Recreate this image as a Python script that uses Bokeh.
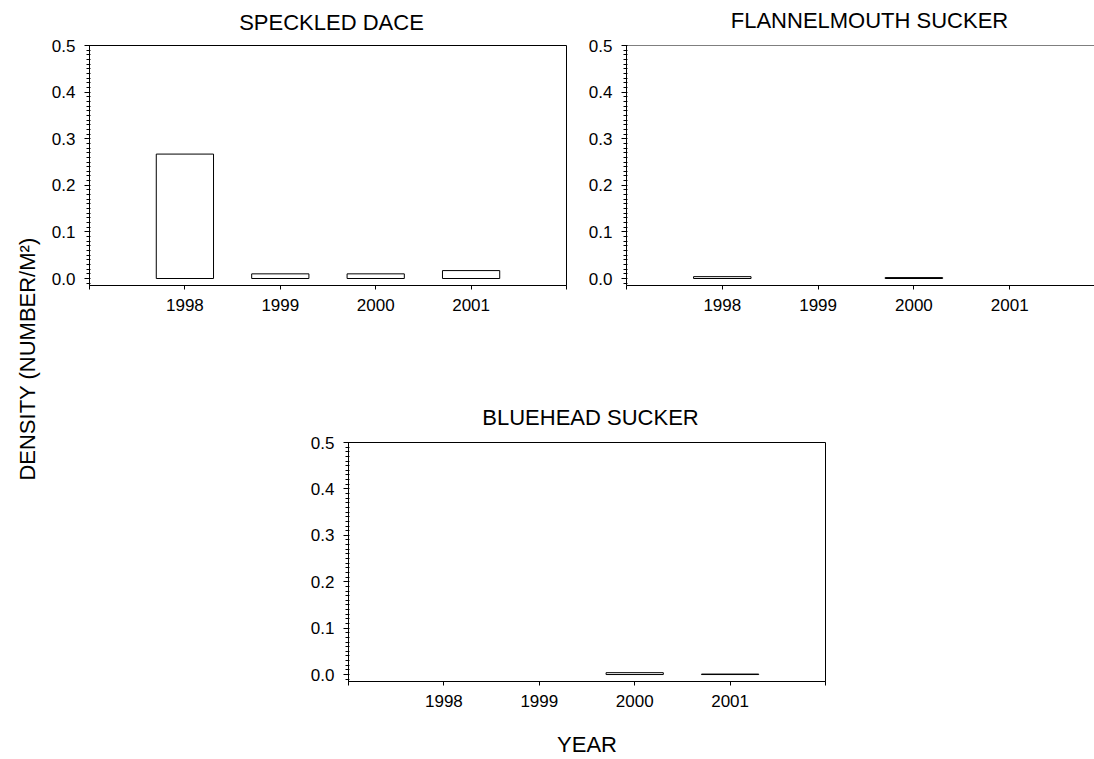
import math
from bokeh.plotting import figure
from bokeh.layouts import row, column
from bokeh.models import FixedTicker, Range1d, ColumnDataSource, PrintfTickFormatter, Spacer, Span
from bokeh.embed import file_html
from bokeh.resources import INLINE
from bokeh.core.properties import value

# ---------------- data ----------------
years = [1998, 1999, 2000, 2001]
speckled_dace = [0.267, 0.010, 0.010, 0.017]
flannelmouth_sucker = [0.004, 0.0, 0.002, 0.0]
bluehead_sucker = [0.0, 0.0, 0.004, 0.001]
titles = ["SPECKLED DACE", "FLANNELMOUTH SUCKER", "BLUEHEAD SUCKER"]
y_ticks = [0.0, 0.1, 0.2, 0.3, 0.4, 0.5]
y_minor_ticks = [i / 100 for i in range(-1, 51)]
x_ticks = [1997, 1998, 1999, 2000, 2001, 2002]
y_label = "DENSITY (NUMBER/M²)"
x_label = "YEAR"

FONT = "Liberation Sans"
TICK_FS = "17px"
TITLE_FS = "22px"


def make_panel(vals, width, height, bl, br, bt, bb, x_end, outline=True, xlabel=None):
    p = figure(width=width, height=height,
               x_range=Range1d(1997, x_end), y_range=Range1d(-0.015, 0.5),
               output_backend="svg", toolbar_location=None,
               min_border_left=bl, min_border_right=br,
               min_border_top=bt, min_border_bottom=bb)
    p.background_fill_color = "white"
    p.border_fill_color = "white"
    p.grid.visible = False
    p.title.visible = False
    if outline:
        p.outline_line_color = "black"
        p.outline_line_width = 1
        p.outline_line_alpha = 1
    else:
        p.outline_line_color = None
        p.add_layout(Span(location=0.5, dimension="width", line_color="black", line_width=1))

    xa = p.xaxis[0]
    xa.ticker = FixedTicker(ticks=x_ticks)
    xa.major_label_overrides = {1997: "", 2002: ""}
    xa.major_tick_out = 4
    xa.major_tick_in = 0
    xa.minor_tick_out = 0
    xa.minor_tick_in = 0
    xa.axis_line_color = "black"
    xa.major_tick_line_color = "black"
    xa.major_label_text_font = FONT
    xa.major_label_text_font_size = TICK_FS
    xa.major_label_text_color = "black"
    xa.major_label_standoff = 9
    if xlabel:
        xa.axis_label = xlabel
        xa.axis_label_text_font = FONT
        xa.axis_label_text_font_size = TITLE_FS
        xa.axis_label_text_font_style = "normal"
        xa.axis_label_text_color = "black"
        xa.axis_label_standoff = 22

    ya = p.yaxis[0]
    ya.ticker = FixedTicker(ticks=y_ticks, minor_ticks=y_minor_ticks)
    ya.formatter = PrintfTickFormatter(format="%.1f")
    ya.major_tick_out = 5
    ya.major_tick_in = 0
    ya.minor_tick_out = 3
    ya.minor_tick_in = 1
    ya.axis_line_color = "black"
    ya.major_tick_line_color = "black"
    ya.minor_tick_line_color = "black"
    ya.major_label_text_font = FONT
    ya.major_label_text_font_size = TICK_FS
    ya.major_label_text_color = "black"
    ya.major_label_standoff = 9

    xs = [y for y, v in zip(years, vals) if v > 0]
    vs = [v for v in vals if v > 0]
    src = ColumnDataSource(dict(x=xs, top=vs))
    p.vbar(x="x", top="top", bottom=0, width=0.6, source=src,
           fill_color="white", line_color="black", line_width=1)
    return p


def text_strip(width, height, xs, ys, texts, angle=0.0):
    s = figure(width=width, height=height, x_range=Range1d(0, width), y_range=Range1d(0, height),
               output_backend="svg", toolbar_location=None, min_border=0,
               x_axis_location=None, y_axis_location=None)
    s.grid.visible = False
    s.outline_line_color = None
    s.background_fill_color = "white"
    s.border_fill_color = "white"
    s.text(x=xs, y=ys, text=texts, angle=angle,
           text_align="center", text_baseline="middle",
           text_font=value(FONT), text_font_size=TITLE_FS, text_color="black")
    return s


TOTAL_H = 759
LEFT_W = 48
RIGHT_W = 1094 - LEFT_W

# shared y label at the far left
lab = text_strip(LEFT_W, TOTAL_H, [27], [TOTAL_H - 358.5], [y_label], angle=math.pi / 2)

# title strips (page x minus LEFT_W; y measured from strip bottom)
TOP_STRIP_H = 35
top_titles = text_strip(RIGHT_W, TOP_STRIP_H, [331 - LEFT_W, 869 - LEFT_W],
                        [TOP_STRIP_H - 22, TOP_STRIP_H - 20], titles[:2])
BOT_STRIP_H = 58
bot_title = text_strip(RIGHT_W, BOT_STRIP_H, [590 - LEFT_W], [BOT_STRIP_H - 45], titles[2:])

p1 = make_panel(speckled_dace, 523, 337, 39, 5, 10, 87, 2002)
p2 = make_panel(flannelmouth_sucker, 523, 337, 55, 0, 10, 87, 1997 + 468 / 95.8, outline=False)
p3 = make_panel(bluehead_sucker, 523, 329, 40, 5, 12, 78, 2002, xlabel=x_label)

layout = row(lab,
             column(top_titles,
                    row(p1, p2, spacing=0),
                    bot_title,
                    row(Spacer(width=259, height=329), p3, spacing=0),
                    spacing=0),
             spacing=0)

open("out.html", "w").write(file_html(layout, INLINE))
